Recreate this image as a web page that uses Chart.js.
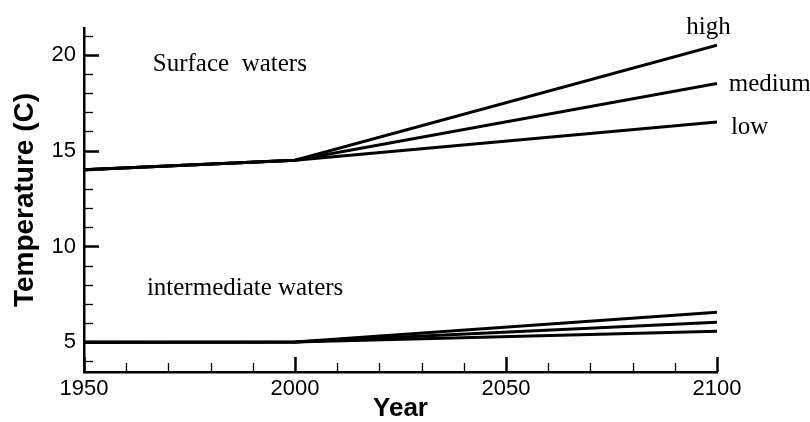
<!DOCTYPE html>
<html>
<head>
<meta charset="utf-8">
<script src="https://cdn.jsdelivr.net/npm/chart.js@4/dist/chart.umd.min.js"></script>
<style>
  html, body { margin: 0; padding: 0; background: #fff; }
  canvas { display: block; }
</style>
</head>
<body>
<canvas id="myChart" width="810" height="422"></canvas>
<script>
// data
const years = [1950, 2000, 2100];
const surfaceHigh = [14.0, 14.5, 20.5];
const surfaceMedium = [14.0, 14.5, 18.5];
const surfaceLow = [14.0, 14.5, 16.5];
const interHigh = [5.0, 5.02, 6.57];
const interMedium = [5.0, 5.02, 6.05];
const interLow = [5.0, 5.02, 5.57];

const xTicks = [1950, 2000, 2050, 2100];
const yTicks = [5, 10, 15, 20];

// text labels placed in data coordinates (year, temperature)
const notes = [
    { text: "Surface  waters", x: 1966.3, y: 19.17 },
    { text: "intermediate waters", x: 1964.9, y: 7.45 },
    { text: "high", x: 2092.7, y: 21.1 },
    { text: "medium", x: 2102.8, y: 18.1 },
    { text: "low", x: 2103.3, y: 15.85 }
];

function pts(values) {
    return years.map((yr, i) => ({ x: yr, y: values[i] }));
}

function lineSet(label, values) {
    return {
        label: label,
        data: pts(values),
        borderColor: "#000",
        borderWidth: 3,
        pointRadius: 0,
        tension: 0,
        fill: false
    };
}

// inward major/minor ticks + text notes
const extras = {
    id: "extras",
    afterDraw(chart) {
        const ctx = chart.ctx;
        const xs = chart.scales.x;
        const ys = chart.scales.y;
        const area = chart.chartArea;
        ctx.save();
        ctx.strokeStyle = "#000";
        for (let v = 4; v <= 21; v++) {
            const major = v % 5 === 0;
            const py = Math.round(ys.getPixelForValue(v)) + 0.5;
            ctx.lineWidth = major ? 2.5 : 1.3;
            ctx.beginPath();
            ctx.moveTo(area.left, py);
            ctx.lineTo(area.left + (major ? 15 : 9), py);
            ctx.stroke();
        }
        for (let v = 1950; v <= 2100; v += 10) {
            const major = v % 50 === 0;
            const px = Math.round(xs.getPixelForValue(v)) + 0.5;
            ctx.lineWidth = major ? 2.5 : 1.3;
            ctx.beginPath();
            ctx.moveTo(px, area.bottom);
            ctx.lineTo(px, area.bottom - (major ? 15 : 9));
            ctx.stroke();
        }
        ctx.fillStyle = "#000";
        ctx.font = "25px 'Liberation Serif', 'Times New Roman', serif";
        ctx.textBaseline = "alphabetic";
        ctx.textAlign = "left";
        notes.forEach(n => {
            ctx.fillText(n.text, xs.getPixelForValue(n.x), ys.getPixelForValue(n.y));
        });
        ctx.restore();
    }
};

const ctx = document.getElementById("myChart");

new Chart(ctx, {
    type: "line",
    data: {
        datasets: [
            lineSet("high", surfaceHigh),
            lineSet("medium", surfaceMedium),
            lineSet("low", surfaceLow),
            lineSet("intermediate high", interHigh),
            lineSet("intermediate medium", interMedium),
            lineSet("intermediate low", interLow)
        ]
    },
    options: {
        responsive: false,
        animation: false,
        layout: { padding: { top: 28, right: 93, left: 0, bottom: 0 } },
        plugins: {
            legend: { display: false },
            tooltip: { enabled: false }
        },
        scales: {
            x: {
                type: "linear",
                min: 1950,
                max: 2100,
                grid: { display: false, drawTicks: false },
                border: { display: true, color: "#000", width: 2.5 },
                afterBuildTicks: scale => { scale.ticks = xTicks.map(v => ({ value: v })); },
                afterFit: scale => { scale.height = 50; },
                ticks: {
                    color: "#000",
                    padding: 4,
                    maxRotation: 0,
                    font: { family: "'Liberation Sans', Arial, sans-serif", size: 22 },
                    callback: v => String(v)
                },
                title: {
                    display: true,
                    text: "Year",
                    color: "#000",
                    padding: { top: 0, bottom: 0 },
                    font: { family: "'Liberation Sans', Arial, sans-serif", size: 26, weight: "bold", lineHeight: 1 }
                }
            },
            y: {
                min: 3.45,
                max: 21.4,
                grid: { display: false, drawTicks: false },
                border: { display: true, color: "#000", width: 2.5 },
                afterBuildTicks: scale => { scale.ticks = yTicks.map(v => ({ value: v })); },
                afterFit: scale => { scale.width = 84; },
                ticks: {
                    color: "#000",
                    padding: 8,
                    font: { family: "'Liberation Sans', Arial, sans-serif", size: 22 },
                    callback: v => String(v)
                },
                title: {
                    display: true,
                    text: "Temperature (C)",
                    color: "#000",
                    padding: { top: 11, bottom: 0 },
                    font: { family: "'Liberation Sans', Arial, sans-serif", size: 28, weight: "bold", lineHeight: 1 }
                }
            }
        }
    },
    plugins: [extras]
});
</script>
</body>
</html>
